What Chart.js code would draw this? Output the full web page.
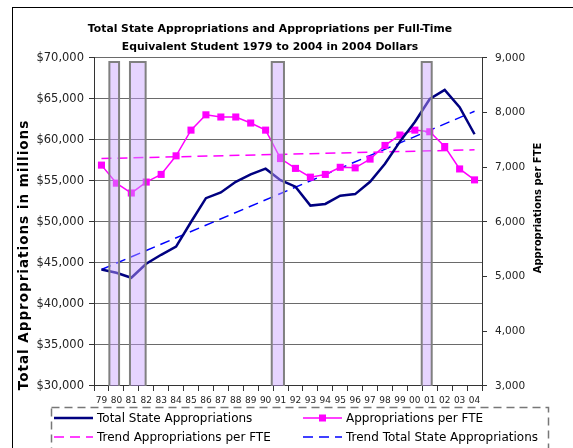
<!DOCTYPE html>
<html>
<head>
<meta charset="utf-8">
<script src="https://cdn.jsdelivr.net/npm/chart.js@4.4.1/dist/chart.umd.min.js"></script>
<style>
  html, body { margin: 0; padding: 0; background: #fff; }
</style>
</head>
<body>
<canvas id="grafico" width="573" height="448"></canvas>
<script>
const anos = ["79","80","81","82","83","84","85","86","87","88","89","90","91",
              "92","93","94","95","96","97","98","99","00","01","02","03","04"];

// total state appropriations, millions of 2004 dollars (left axis)
const totalEstado = [44200, 43800, 43200, 44900, 46000, 47000, 50000, 52900, 53600, 54900, 55800, 56500, 55100,
                     54300, 52000, 52200, 53200, 53400, 54900, 57100, 59800, 62200, 65000, 66100, 64000, 60700];

// appropriations per FTE student (right axis)
const porFTE = [7040, 6710, 6530, 6730, 6870, 7210, 7680, 7960, 7920, 7920, 7810, 7680, 7160,
                6980, 6820, 6870, 7000, 6990, 7150, 7400, 7590, 7680, 7650, 7380, 6970, 6770];

// trend lines, first and last year
const tendenciaFTE = [7160, 7320];
const tendenciaTotal = [44200, 63500];

// recession periods, in year index units (0 = 1979)
const recessaoInicio = [0.53, 1.91, 11.41, 21.46];
const recessaoFim = [1.18, 2.96, 12.23, 22.13];
const recessaoTopo = 69500;

const tituloEsq = "Total Appropriations in millions";
const tituloDir = "Appropriations per FTE";

const ultimo = anos.length - 1;

const datasets = [
  {
    label: "Total State Appropriations",
    data: totalEstado.map((v, i) => ({ x: i, y: v })),
    yAxisID: "y",
    borderColor: "#000080",
    borderWidth: 2.5,
    pointRadius: 0,
    tension: 0,
    order: 1
  },
  {
    label: "Appropriations per FTE",
    data: porFTE.map((v, i) => ({ x: i, y: v })),
    yAxisID: "y1",
    borderColor: "#FF00FF",
    borderWidth: 1.5,
    pointStyle: "rect",
    pointRadius: 5,
    pointBackgroundColor: "#FF00FF",
    pointBorderWidth: 0,
    tension: 0,
    order: 1
  },
  {
    label: "Trend Appropriations per FTE",
    data: [{ x: 0, y: tendenciaFTE[0] }, { x: ultimo, y: tendenciaFTE[1] }],
    yAxisID: "y1",
    borderColor: "#FF00FF",
    borderWidth: 1.5,
    borderDash: [10, 6],
    pointRadius: 0,
    order: 1
  },
  {
    label: "Trend Total State Appropriations",
    data: [{ x: 0, y: tendenciaTotal[0] }, { x: ultimo, y: tendenciaTotal[1] }],
    yAxisID: "y",
    borderColor: "#0000FF",
    borderWidth: 1.5,
    borderDash: [10, 6],
    pointRadius: 0,
    order: 1
  }
];

recessaoInicio.forEach((ini, k) => {
  const fim = recessaoFim[k];
  datasets.push({
    label: "recessao" + k,
    data: [{ x: ini, y: 30000 }, { x: ini, y: recessaoTopo }, { x: fim, y: recessaoTopo }, { x: fim, y: 30000 }],
    yAxisID: "y",
    borderColor: "#808080",
    borderWidth: 2,
    backgroundColor: "rgba(200, 160, 255, 0.45)",
    fill: "origin",
    pointRadius: 0,
    tension: 0,
    order: 0
  });
});

const posLegenda = [
  { x: 54, y: 418 },
  { x: 303, y: 418 },
  { x: 54, y: 437 },
  { x: 303, y: 437 }
];

const extras = {
  id: "extras",
  beforeDraw(chart) {
    const c = chart.ctx;
    c.save();
    c.fillStyle = "#fff";
    c.fillRect(0, 0, chart.width, chart.height);
    c.strokeStyle = "#000";
    c.lineWidth = 1;
    c.strokeRect(12.5, 7.5, 800, 800);
    c.restore();
  },
  afterDraw(chart) {
    const c = chart.ctx;

    // axis titles
    c.save();
    c.fillStyle = "#000";
    c.textAlign = "center";
    c.textBaseline = "middle";
    c.font = "bold 13.5px 'DejaVu Sans'";
    c.letterSpacing = "1px";
    c.translate(24, 255);
    c.rotate(-Math.PI / 2);
    c.fillText(tituloEsq, 0, 0);
    c.restore();

    c.save();
    c.fillStyle = "#000";
    c.textAlign = "center";
    c.textBaseline = "middle";
    c.font = "bold 10px 'DejaVu Sans'";
    c.translate(538, 208);
    c.rotate(-Math.PI / 2);
    c.fillText(tituloDir, 0, 0);
    c.restore();

    // legend box
    c.save();
    c.strokeStyle = "#777";
    c.lineWidth = 1.5;
    c.setLineDash([8, 5]);
    c.strokeRect(51.5, 407.5, 497, 60);
    c.restore();

    // legend items
    for (let i = 0; i < 4; i++) {
      const ds = chart.data.datasets[i];
      const p = posLegenda[i];
      c.save();
      c.strokeStyle = ds.borderColor;
      c.lineWidth = ds.borderWidth;
      c.setLineDash(ds.borderDash || []);
      c.beginPath();
      c.moveTo(p.x, p.y);
      c.lineTo(p.x + 39, p.y);
      c.stroke();
      if (ds.pointStyle === "rect") {
        c.fillStyle = ds.pointBackgroundColor;
        c.fillRect(p.x + 16, p.y - 3.5, 7, 7);
      }
      c.fillStyle = "#000";
      c.font = "12px 'DejaVu Sans'";
      c.textAlign = "left";
      c.textBaseline = "middle";
      c.fillText(ds.label, p.x + 43, p.y + 1);
      c.restore();
    }
  }
};

const fmt = v => v.toLocaleString("en-US");

new Chart(document.getElementById("grafico").getContext("2d"), {
  type: "line",
  data: { datasets: datasets },
  plugins: [extras],
  options: {
    responsive: false,
    animation: false,
    layout: { padding: { left: 0, right: 33, top: 0, bottom: 0 } },
    plugins: {
      legend: { display: false },
      tooltip: { enabled: false },
      title: {
        display: true,
        text: ["Total State Appropriations and Appropriations per Full-Time",
               "Equivalent Student 1979 to 2004 in 2004 Dollars"],
        color: "#000",
        font: { family: "DejaVu Sans", size: 10.8, weight: "bold", lineHeight: 1.6 },
        padding: { top: 21, bottom: 2.4 }
      }
    },
    scales: {
      x: {
        type: "linear",
        min: -0.5,
        max: ultimo + 0.5,
        afterBuildTicks: s => {
          const t = [];
          for (let v = -0.5; v <= ultimo + 0.5; v += 0.5) t.push({ value: v });
          s.ticks = t;
        },
        afterFit: s => { s.height = 62; },
        ticks: {
          autoSkip: false,
          maxRotation: 0,
          padding: 4,
          color: "#222",
          font: { family: "DejaVu Sans", size: 9 },
          callback: v => Number.isInteger(v) ? anos[v] : ""
        },
        grid: {
          drawOnChartArea: false,
          tickLength: 5,
          tickColor: c => Number.isInteger(c.tick.value) ? "rgba(0,0,0,0)" : "#333"
        },
        border: { color: "#333" }
      },
      y: {
        position: "left",
        min: 30000,
        max: 70000,
        afterFit: s => { s.width = 94; },
        ticks: {
          stepSize: 5000,
          padding: 5,
          color: "#222",
          font: { family: "DejaVu Sans", size: 11.5 },
          callback: v => "$" + fmt(v)
        },
        grid: { color: "#6a6a6a", tickLength: 5, tickColor: "#333" },
        border: { color: "#333" }
      },
      y1: {
        position: "right",
        min: 3000,
        max: 9000,
        afterFit: s => { s.width = 58; },
        ticks: {
          stepSize: 1000,
          padding: 8,
          color: "#222",
          font: { family: "DejaVu Sans", size: 10.5 },
          callback: v => fmt(v)
        },
        grid: { drawOnChartArea: false, tickLength: 5, tickColor: "#333" },
        border: { color: "#333" }
      }
    }
  }
});
</script>
</body>
</html>
